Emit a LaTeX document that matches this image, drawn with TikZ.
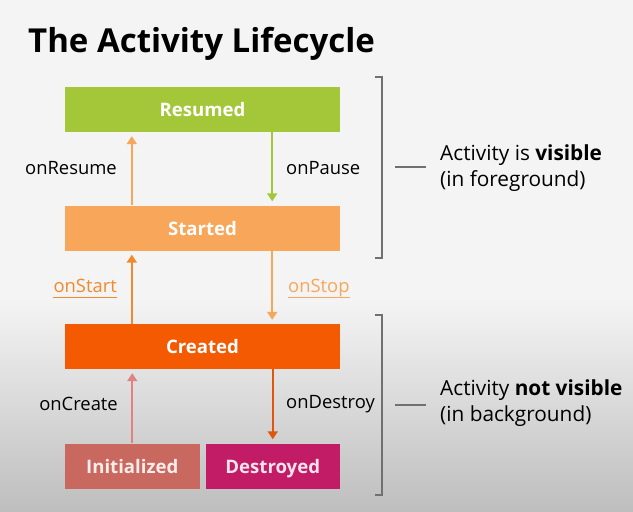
\documentclass[tikz,border=0pt]{standalone}
\usepackage{fontspec}
\setmainfont{Open Sans}
\usetikzlibrary{arrows.meta, positioning, calc}
\definecolor{resgreen}{HTML}{A4C639}
\definecolor{startorange}{HTML}{F8A65A}
\definecolor{createorange}{HTML}{F45A02}
\definecolor{initred}{HTML}{C9685F}
\definecolor{destpink}{HTML}{C21C66}
\definecolor{startarrow}{HTML}{F08A2C}
\definecolor{destarrow}{HTML}{DF560E}
\definecolor{createarrow}{HTML}{E08282}
\definecolor{bglight}{HTML}{F4F4F4}
\definecolor{bgdark}{HTML}{BEBEBE}
\definecolor{bracketgray}{HTML}{707070}

\begin{document}
\begin{tikzpicture}[x=1pt, y=-1pt,
    state/.style={minimum width=275pt, minimum height=45pt, inner sep=0pt,
                  text height=15.5pt, text depth=1.3pt,
                  text=white, font=\fontsize{18.6}{20}\selectfont\bfseries},
    small/.style={state, minimum width=134.5pt},
    cb/.style={font=\fontsize{18.4}{20}\selectfont, inner sep=0pt},
    uline/.style={line width=1.1pt},
    note/.style={font=\fontsize{20.8}{26}\selectfont, align=left, inner sep=0pt, anchor=west},
    arrow/.style={-{Triangle[width=10pt,length=8pt]}, line width=2pt, shorten >=4pt},
    bracket/.style={bracketgray, line width=1.2pt}
  ]
    % Background
    \fill[bglight] (0,0) rectangle (633,300);
    \shade[top color=bglight, bottom color=bgdark] (0,300) rectangle (633,512);
    \useasboundingbox (0,0) rectangle (633,512);

    % Title
    \node[anchor=base west, inner sep=0pt, font=\fontsize{33}{36}\selectfont\bfseries] (title) at (28,52)
      {The Activity Lifecycle};

    % States
    \node[state, fill=resgreen] (resumed) at (202.5,109.5) {Resumed};
    \node[state, fill=startorange] (started) at (202.5,228) {Started};
    \node[state, fill=createorange] (created) at (202.5,346.5) {Created};
    \node[small, fill=initred, text=white!88!initred] (init) at (132.25,466) {Initialized};
    \node[small, fill=destpink, text=white!88!destpink] (destroyed) at (272.75,466) {Destroyed};

    % Callbacks
    \node[cb, anchor=east] (onresume) at (117,168) {onResume};
    \node[cb, anchor=west] (onpause) at (286,168) {onPause};
    \node[cb, anchor=base east, text=startarrow] (onstart) at (117,292) {onStart};
    \node[cb, anchor=base west, text=startorange] (onstop) at (288,292) {onStop};
    \node[cb, anchor=east] (oncreate) at (118,404) {onCreate};
    \node[cb, anchor=west] (ondestroy) at (286,404.5) {onDestroy};
    \draw[uline, startarrow] ([yshift=-5.5pt]onstart.base west) -- ([yshift=-5.5pt]onstart.base east);
    \draw[uline, startorange] ([yshift=-5.5pt]onstop.base west) -- ([yshift=-5.5pt]onstop.base east);

    % Arrows
    \draw[arrow, startorange] ([xshift=67pt]started.north west) -- ([xshift=67pt]resumed.south west);
    \draw[arrow, resgreen] ([xshift=-68pt]resumed.south east) -- ([xshift=-68pt]started.north east);
    \draw[arrow, startarrow] ([xshift=67pt]created.north west) -- ([xshift=67pt]started.south west);
    \draw[arrow, startorange] ([xshift=-68pt]started.south east) -- ([xshift=-68pt]created.north east);
    \draw[arrow, createarrow] (init.north) -- (init.north |- created.south);
    \draw[arrow, destarrow] (destroyed.north |- created.south) -- (destroyed.north);

    % Visibility brackets
    \draw[bracket] (375,77) -- (382,77) -- (382,258) -- (375,258);
    \draw[bracket] (375,315) -- (382,315) -- (382,495) -- (375,495);
    \draw[bracket] (395,167) -- (426,167);
    \draw[bracket] (395,405) -- (426,405);

    \node[note] (fg) at (440,168) {Activity is \textbf{visible}\\(in foreground)};
    \node[note] (bg) at (440,403) {Activity \textbf{not visible}\\(in background)};
  \end{tikzpicture}
\end{document}
